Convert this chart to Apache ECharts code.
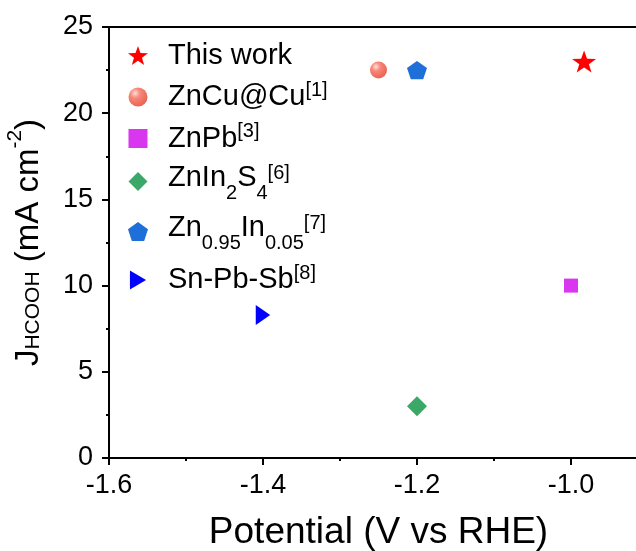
<!DOCTYPE html>
<html>
<head>
<meta charset="utf-8">
<script src="https://cdn.jsdelivr.net/npm/echarts@6/dist/echarts.min.js"></script>
<style>
  html, body { margin: 0; padding: 0; background: #fff; overflow: hidden; }
  #chart { width: 648px; height: 551px; }
</style>
</head>
<body>
<div id="chart"></div>
<script>
// 数据
const seriesNames = ['This work', 'ZnCu@Cu', 'ZnPb', 'ZnIn2S4', 'Zn0.95In0.05', 'Sn-Pb-Sb']
const potentials = [-0.983, -1.25, -1.0, -1.2, -1.2, -1.4]
const currents = [23.0, 22.5, 10.0, 3.0, 22.5, 8.3]

// 图例文字 (上下标)
const legendLabels = {
  'This work': '{n1|This work}',
  'ZnCu@Cu': '{n|ZnCu@Cu}{sup|[1]}',
  'ZnPb': '{n|ZnPb}{sup|[3]}',
  'ZnIn2S4': '{m|ZnIn}{sub|2}{m|S}{sub|4}{sup2|[6]}',
  'Zn0.95In0.05': '{m|Zn}{sub|0.95}{m|In}{sub|0.05}{sup2|[7]}',
  'Sn-Pb-Sb': '{n|Sn-Pb-Sb}{sup|[8]}'
}

const FONT = '"Liberation Sans", Arial, sans-serif'
const starPath = 'path://M0,-10L2.35,-3.24L9.51,-3.09L3.8,1.24L5.88,8.09L0,4L-5.88,8.09L-3.8,1.24L-9.51,-3.09L-2.35,-3.24Z'
const pentPath = 'path://M0,-10L9.51,-3.09L5.88,8.09L-5.88,8.09L-9.51,-3.09Z'
const squarePath = 'path://M0,0L10,0L10,10L0,10Z'
const diamondPath = 'path://M0,-10L10,0L0,10L-10,0Z'
const triPath = 'path://M0,0L17,10L0,20Z'

// 样式
const markers = [
  { symbol: starPath, size: [24, 23], color: '#ff0000' },
  {
    symbol: 'circle', size: 17,
    color: {
      type: 'radial', x: 0.35, y: 0.3, r: 0.75,
      colorStops: [
        { offset: 0, color: '#ffe0d8' },
        { offset: 0.35, color: '#f8877a' },
        { offset: 1, color: '#e8604f' }
      ]
    }
  },
  { symbol: squarePath, size: 14, color: '#d936f0' },
  { symbol: diamondPath, size: 20, color: '#3ba868' },
  { symbol: pentPath, size: [20, 19], color: '#1e6fd8' },
  { symbol: triPath, size: [17, 20], color: '#0000ff' }
]

const chart = echarts.init(document.getElementById('chart'))

const series = seriesNames.map((name, i) => ({
  name,
  type: 'scatter',
  data: [[potentials[i], currents[i]]],
  symbol: markers[i].symbol,
  symbolSize: markers[i].size,
  symbolKeepAspect: true,
  itemStyle: { color: markers[i].color, opacity: 1 },
  emphasis: { disabled: true }
}))

const txt = (size, extra) => Object.assign({ fontSize: size, fontFamily: FONT, color: '#000' }, extra)

chart.setOption({
  animation: false,
  grid: {
    left: 109,
    top: 27,
    right: 0,
    bottom: 93,
    outerBoundsMode: 'none',
    show: true,
    borderColor: '#000',
    borderWidth: 2
  },
  legend: {
    orient: 'vertical',
    left: 123,
    top: 36,
    itemWidth: 50,
    itemHeight: 19,
    itemGap: 10,
    selectedMode: false,
    data: seriesNames,
    formatter: (name) => legendLabels[name],
    textStyle: {
      rich: {
        n: txt(29),
        n1: txt(29, { padding: [7, 0, 7, 0] }),
        m: txt(29, { padding: [0, 0, 7, 0] }),
        sup: txt(20, { padding: [0, 0, 14, 0] }),
        sup2: txt(20, { padding: [0, 0, 17, 0] }),
        sub: txt(20, { padding: [23, 0, 0, 0] })
      }
    }
  },
  xAxis: {
    type: 'value',
    min: -1.6,
    max: -0.9,
    interval: 0.2,
    name: 'Potential (V vs RHE)',
    nameLocation: 'middle',
    nameGap: 56,
    nameTextStyle: txt(37),
    axisLine: { show: true, onZero: false, lineStyle: { color: '#000', width: 2 } },
    axisTick: { show: true, inside: false, length: 7, lineStyle: { color: '#000', width: 2 } },
    minorTick: { show: true, splitNumber: 2, length: 3, lineStyle: { color: '#000', width: 2 } },
    splitLine: { show: false },
    axisLabel: txt(27, {
      margin: 14,
      formatter: (v) => (v > -0.95 ? '' : v.toFixed(1))
    })
  },
  yAxis: {
    type: 'value',
    min: 0,
    max: 25,
    interval: 5,
    name: '{n|J}{sub|HCOOH}{n| (mA cm}{sup|-2}{n|)}',
    nameLocation: 'middle',
    nameGap: 55,
    nameTextStyle: {
      rich: {
        n: txt(33, { lineHeight: 40 }),
        sub: txt(21, { lineHeight: 21, padding: [10, 0, 0, 0] }),
        sup: txt(21, { lineHeight: 21, padding: [0, 0, 26, 0] })
      }
    },
    axisLine: { show: true, onZero: false, lineStyle: { color: '#000', width: 2 } },
    axisTick: { show: true, inside: false, length: 7, lineStyle: { color: '#000', width: 2 } },
    minorTick: { show: true, splitNumber: 2, length: 3, lineStyle: { color: '#000', width: 2 } },
    splitLine: { show: false },
    axisLabel: txt(27, { margin: 16 })
  },
  series
})
</script>
</body>
</html>
